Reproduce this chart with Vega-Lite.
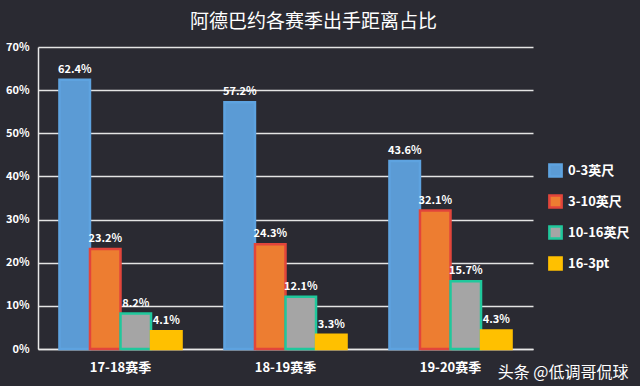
{
  "$schema": "https://vega.github.io/schema/vega-lite/v6.json",
  "autosize": "none",
  "width": 495,
  "height": 302,
  "padding": {"left": 38, "top": 47, "right": 107, "bottom": 37},
  "background": "#2a2a32",
  "config": {"view": {"stroke": null}, "font": "Noto Sans CJK SC"},
  "title": {
    "text": "阿德巴约各赛季出手距离占比",
    "color": "#ffffff",
    "fontSize": 19,
    "fontWeight": "normal",
    "font": "Noto Sans CJK SC",
    "anchor": "middle",
    "dx": 28,
    "offset": 9
  },
  "data": {
    "values": [
      {"season": "17-18赛季", "range": "0-3英尺", "v": 0.624},
      {"season": "17-18赛季", "range": "3-10英尺", "v": 0.232},
      {"season": "17-18赛季", "range": "10-16英尺", "v": 0.082},
      {"season": "17-18赛季", "range": "16-3pt", "v": 0.041},
      {"season": "18-19赛季", "range": "0-3英尺", "v": 0.572},
      {"season": "18-19赛季", "range": "3-10英尺", "v": 0.243},
      {"season": "18-19赛季", "range": "10-16英尺", "v": 0.121},
      {"season": "18-19赛季", "range": "16-3pt", "v": 0.033},
      {"season": "19-20赛季", "range": "0-3英尺", "v": 0.436},
      {"season": "19-20赛季", "range": "3-10英尺", "v": 0.321},
      {"season": "19-20赛季", "range": "10-16英尺", "v": 0.157},
      {"season": "19-20赛季", "range": "16-3pt", "v": 0.043}
    ]
  },
  "encoding": {
    "x": {
      "field": "season",
      "type": "nominal",
      "scale": {"paddingInner": 0.26, "paddingOuter": 0.13},
      "axis": {
        "title": "头条 @低调哥侃球",
        "titleColor": "#ffffff",
        "titleFontSize": 16,
        "titleFontWeight": "normal",
        "titleAnchor": "end",
        "titleAlign": "right",
        "titleBaseline": "alphabetic",
        "titleX": 590,
        "titleY": 28,
        "labelAngle": 0,
        "labelColor": "#ffffff",
        "labelFontSize": 13,
        "labelFontWeight": "bold",
        "labelPadding": 12,
        "ticks": false,
        "domainColor": "#e8e8e8",
        "domainWidth": 1.5
      }
    },
    "xOffset": {
      "field": "range",
      "type": "nominal",
      "sort": ["0-3英尺", "3-10英尺", "10-16英尺", "16-3pt"],
      "scale": {"paddingInner": 0, "paddingOuter": 0}
    },
    "y": {
      "field": "v",
      "type": "quantitative",
      "scale": {"domain": [0, 0.7], "nice": false},
      "axis": {
        "title": null,
        "format": ".0%",
        "values": [0, 0.1, 0.2, 0.3, 0.4, 0.5, 0.6, 0.7],
        "labelColor": "#ffffff",
        "labelFontSize": 11,
        "labelFontWeight": "bold",
        "labelPadding": 9,
        "ticks": false,
        "gridColor": "#e4e4e4",
        "gridWidth": 1.5,
        "domainColor": "#e8e8e8",
        "domainWidth": 1.5
      }
    }
  },
  "layer": [
    {
      "mark": {"type": "bar", "strokeWidth": 2.5},
      "encoding": {
        "color": {
          "field": "range",
          "type": "nominal",
          "sort": ["0-3英尺", "3-10英尺", "10-16英尺", "16-3pt"],
          "scale": {
            "domain": ["0-3英尺", "3-10英尺", "10-16英尺", "16-3pt"],
            "range": ["#5b9bd5", "#ed7d31", "#a5a5a5", "#ffc000"]
          },
          "legend": {
            "title": null,
            "orient": "none",
            "legendX": 510,
            "legendY": 116,
            "labelColor": "#ffffff",
            "labelFontSize": 13,
            "labelFontWeight": "bold",
            "symbolType": "square",
            "symbolSize": 150,
            "symbolStrokeWidth": 2.5,
            "rowPadding": 8,
            "labelOffset": 5
          }
        },
        "stroke": {
          "field": "range",
          "type": "nominal",
          "sort": ["0-3英尺", "3-10英尺", "10-16英尺", "16-3pt"],
          "scale": {
            "domain": ["0-3英尺", "3-10英尺", "10-16英尺", "16-3pt"],
            "range": ["#5ea3e0", "#e2453b", "#20c89c", "#ffc000"]
          },
          "legend": null
        }
      }
    },
    {
      "mark": {
        "type": "text",
        "color": "#ffffff",
        "fontSize": 11,
        "fontWeight": "bold",
        "baseline": "bottom",
        "dy": -5
      },
      "encoding": {
        "text": {"field": "v", "type": "quantitative", "format": ".1%"}
      }
    }
  ]
}
